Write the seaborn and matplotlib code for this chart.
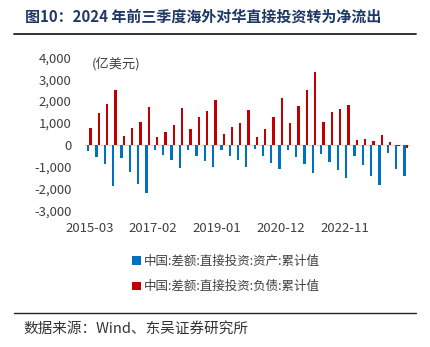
import matplotlib
matplotlib.use("Agg")
import matplotlib.pyplot as plt
import seaborn as sns
import pandas as pd
from matplotlib.patches import Patch
from matplotlib.lines import Line2D

quarters = [f"{y}-{m:02d}" for y in range(2015, 2025) for m in (3, 6, 9, 12)][:39]
assets = [-258, -545, -864, -1879, -591, -1227, -1773, -2182, -227, -439, -667, -1045,
          -212, -485, -727, -995, -227, -485, -697, -985, -197, -500, -818, -1106,
          -242, -561, -864, -1288, -424, -758, -1136, -1500, -515, -894, -1424, -1848,
          -379, -1106, -1424]
liabilities = [758, 1455, 1864, 2515, 424, 773, 1030, 1727, 348, 576, 894, 1697,
               742, 1273, 1530, 2045, 485, 818, 1015, 1576, 364, 712, 1273, 2136,
               985, 1788, 2515, 3333, 1045, 1500, 1636, 1803, 242, 288, 182, 439,
               121, -30, -150]
series_names = ["中国:差额:直接投资:资产:累计值", "中国:差额:直接投资:负债:累计值"]
colors = ["#0070C0", "#C00000"]
xtick_labels = ["2015-03", "2017-02", "2019-01", "2020-12", "2022-11"]
yticks = [-3000, -2000, -1000, 0, 1000, 2000, 3000, 4000]
title = "图10：2024 年前三季度海外对华直接投资转为净流出"
unit = "(亿美元)"
source = "数据来源：Wind、东吴证券研究所"


def month_idx(s):
    y, m = s.split("-")
    return (int(y) - 2015) * 12 + int(m) - 3


df = pd.DataFrame({
    "t": [month_idx(q) for q in quarters] * 2,
    "v": assets + liabilities,
    "s": [series_names[0]] * len(quarters) + [series_names[1]] * len(quarters),
})

sns.set_theme(style="white")
plt.rcParams["font.family"] = ["Noto Sans CJK SC", "DejaVu Sans"]

fig = plt.figure(figsize=(4.3, 3.47), dpi=100)
ax = fig.add_axes([85.3 / 430, 1 - 210.7 / 347, (409.7 - 85.3) / 430, (210.7 - 57.3) / 347])

sns.barplot(data=df, x="t", y="v", hue="s", palette=colors, native_scale=True,
            width=0.55, dodge=True, ax=ax, legend=False, saturation=1,
            edgecolor="none", linewidth=0)

ax.set_xlim(-1.5, 115.5)
ax.set_ylim(-3000, 4000)
ax.axhline(0, color="#D9D9D9", lw=1.0, zorder=0.5)
ax.set_yticks(yticks)
ax.set_yticklabels([f"{v:,}" for v in yticks])
ax.set_xticks([month_idx(s) for s in xtick_labels])
ax.set_xticklabels(xtick_labels)
ax.tick_params(axis="both", length=0, labelsize=9.5, colors="#404040")
ax.tick_params(axis="y", pad=10)
ax.tick_params(axis="x", pad=8)
ax.set_xlabel("")
ax.set_ylabel("")
for sp in ax.spines.values():
    sp.set_visible(False)
ax.grid(False)

fig.text(92 / 430, 1 - 63.5 / 347, unit, fontsize=9.5, color="#404040", va="center", ha="left")

handles = [Patch(facecolor=c, edgecolor="none") for c in colors]
fig.legend(handles, series_names, loc="center", bbox_to_anchor=(226 / 430, 1 - 274 / 347),
           frameon=False, fontsize=9, handlelength=0.7, handleheight=0.7,
           handletextpad=0.3, labelspacing=1.0, labelcolor="#404040")

fig.text(25 / 430, 1 - 17 / 347, title, fontsize=10.8, fontweight="bold",
         color="#1F3864", va="center", ha="left")
fig.add_artist(Line2D([14 / 430, 416 / 430], [1 - 34 / 347] * 2, color="#222222", lw=1.3,
                      transform=fig.transFigure))
fig.add_artist(Line2D([14 / 430, 416 / 430], [1 - 312.7 / 347] * 2, color="#222222", lw=1.0,
                      transform=fig.transFigure))
fig.text(23 / 430, 1 - 329 / 347, source, fontsize=10.5, color="#333333", va="center", ha="left")

fig.savefig("out.png", dpi=100)
